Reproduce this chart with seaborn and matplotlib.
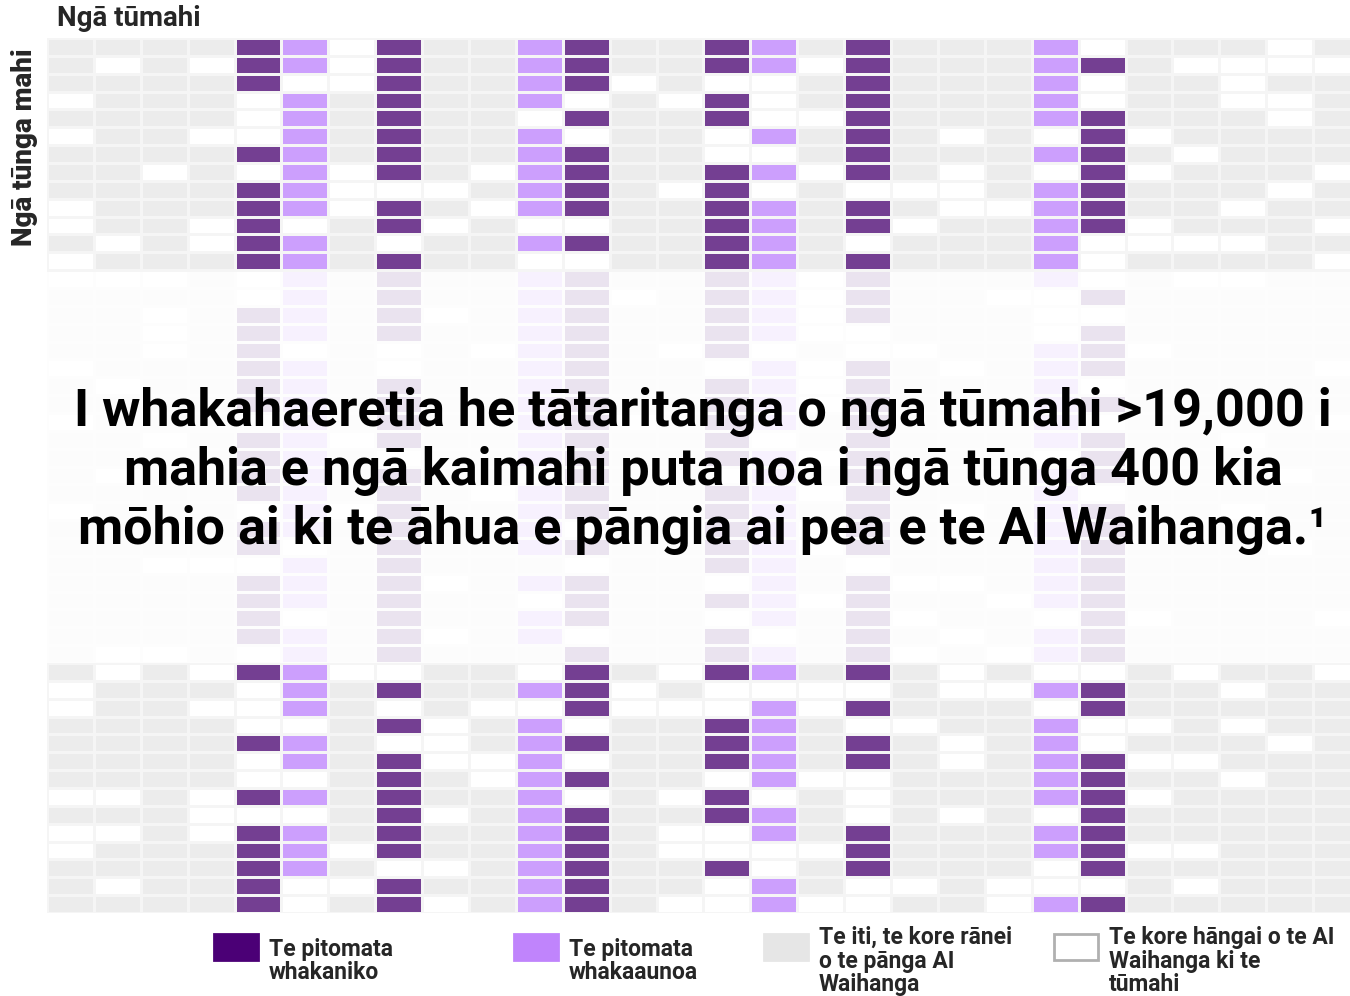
import numpy as np
import pandas as pd
import matplotlib
matplotlib.use("Agg")
import matplotlib.pyplot as plt
from matplotlib.colors import ListedColormap
from matplotlib.patches import Rectangle
import seaborn as sns

# cell codes: 0 = not relevant, 1 = low / no impact, 2 = augmentation, 3 = automation
# each row = 28 tasks, grouped by 7 for reading
top_rows = [
    "1111320 3112311 3213111 2011101",
    "1010320 3112311 3203111 2310000",
    "1111300 3112301 0013111 2011011",
    "0111021 3112010 3013111 2011001",
    "1111021 3110311 3003111 2311101",
    "0110021 3112011 0213101 0301111",
    "1111321 3112311 0013111 2310111",
    "1101020 3102311 3203101 0301110",
    "1111320 0012310 3010001 2311101",
    "0111320 3102311 3213100 2311011",
    "0110301 3010011 3213011 2301110",
    "1010321 0112311 3210111 2000011",
    "0111321 3110011 3213111 2011110",
]

faded_rows = [
    "0001021 3112311 3203111 2010011",
    "1111021 3112301 3203110 0311111",
    "1101321 3012311 3203111 0011111",
    "1101321 3112311 3200111 0311111",
    "1101301 0102310 3010011 2301111",
    "0111321 0112311 0203101 2311110",
    "1011321 3112311 3203111 2011111",
    "1111321 3112311 3203111 2311111",
    "0111021 3112301 3213101 2011110",
    "1101320 3112311 3013111 2311011",
    "1111321 0112311 3203111 0311111",
    "1011321 3110311 0213011 2311101",
    "1111321 3102311 3203111 2011111",
    "0111020 3112311 3213101 2311011",
    "1111321 3112011 3203111 2311111",
    "1111301 3112311 3203111 2311101",
    "1100021 3111011 3210111 2311111",
    "1111321 3012311 0213001 2311111",
    "1111321 3110311 3203110 2311111",
    "1111301 3112311 0213011 0301110",
    "1111321 3012011 3013101 2311111",
    "1001021 3111311 3213010 2311111",
]

bottom_rows = [
    "1010320 0110310 3213101 0010110",
    "0111021 3112301 0000100 2311011",
    "0110021 0100300 0203111 0311111",
    "1111001 3012011 3210011 2001011",
    "1111321 0012311 3213101 2011101",
    "1111021 3002011 3213101 2300111",
    "1111001 3102311 0200111 2311011",
    "0010321 3112010 3010111 2301111",
    "1110001 3012311 3210101 0311111",
    "0010321 3112310 0213111 2311111",
    "0111320 3112310 0003111 2300111",
    "1111321 0012311 3013111 0311111",
    "1011300 3112311 0210010 0010111",
    "1111301 3012310 0200110 2311111",
]

cell_colours = ["#ffffff", "#ececec", "#cc9ffd", "#743f92"]
legend_colours = ["#4b0076", "#c084fc", "#e6e6e6", "#ffffff"]
legend_labels = [
    "Te pitomata\nwhakaniko",
    "Te pitomata\nwhakaaunoa",
    "Te iti, te kore rānei\no te pānga AI\nWaihanga",
    "Te kore hāngai o te AI\nWaihanga ki te\ntūmahi",
]
legend_x = [214, 514, 764, 1054]

title = "Ngā tūmahi"
ylabel = "Ngā tūnga mahi"
headline = ("I whakahaeretia he tātaritanga o ngā tūmahi >19,000 i\n"
            "mahia e ngā kaimahi puta noa i ngā tūnga 400 kia\n"
            "mōhio ai ki te āhua e pāngia ai pea e te AI Waihanga.¹")


def to_grid(rows):
    return np.array([[int(ch) for ch in r.replace(" ", "")] for r in rows])


grid = pd.DataFrame(to_grid(top_rows + faded_rows + bottom_rows))

sns.set_theme(style="white")
plt.rcParams["font.family"] = ["Roboto", "DejaVu Sans"]

W, H = 1350, 996
fig = plt.figure(figsize=(13.5, 9.96), dpi=100)
ax = fig.add_axes([47 / W, 83 / H, 1313 / W, 875 / H])

sns.heatmap(
    grid,
    cmap=ListedColormap(cell_colours),
    vmin=-0.5, vmax=3.5,
    cbar=False,
    linewidths=0.8,
    linecolor="#f5f5f5",
    xticklabels=False,
    yticklabels=False,
    ax=ax,
)

# white veil over the middle rows
n_top = len(top_rows)
ax.add_patch(Rectangle((0, n_top + 0.1), grid.shape[1], len(faded_rows) - 0.1,
                       facecolor="white", alpha=0.86, edgecolor="none", zorder=3))

fig.text(703 / W, 1 - 471 / H, headline, ha="center", va="center",
         fontsize=37.5, fontweight="bold", color="black", linespacing=1.22, zorder=5)

fig.text(57 / W, 1 - 19 / H, title, ha="left", va="center",
         fontsize=20, fontweight="bold")
fig.text(25 / W, 1 - 147 / H, ylabel, ha="center", va="center",
         rotation=90, fontsize=20, fontweight="heavy")

# legend
for x, col, lab in zip(legend_x, legend_colours, legend_labels):
    edge = "#b0b0b0" if col == "#ffffff" else col
    fig.add_artist(Rectangle((x / W, 1 - 960 / H), 44 / W, 26 / H,
                             facecolor=col, edgecolor=edge, linewidth=2,
                             transform=fig.transFigure))
    fig.text((x + 55) / W, 1 - 961 / H, lab, ha="left", va="center",
             fontsize=16.5, fontweight="bold", linespacing=1.05)

fig.savefig("out.png", dpi=100)
